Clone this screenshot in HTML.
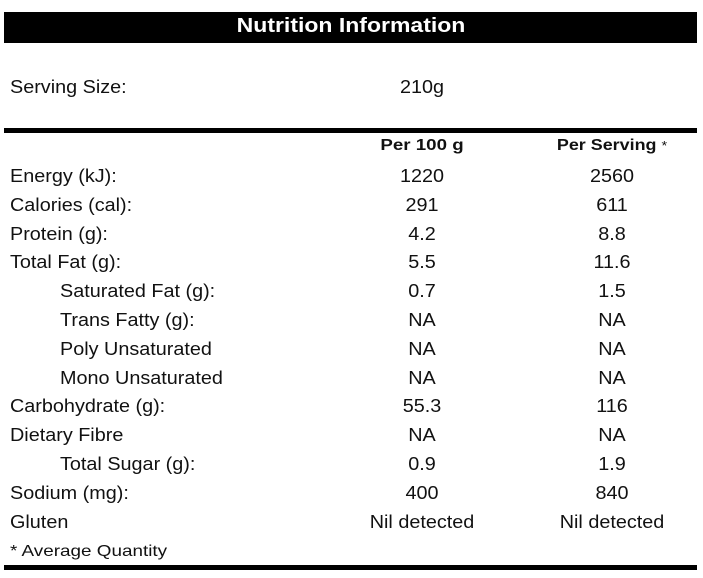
<!DOCTYPE html>
<html><head><meta charset="utf-8"><style>
body{margin:0;width:703px;height:578px;background:#fff;position:relative;overflow:hidden;font-family:"Liberation Sans",Arial,sans-serif;color:#111;}
.t{position:absolute;font-size:18px;line-height:20px;white-space:nowrap;transform:scaleX(1.1);transform-origin:left center;}
.c{transform:translateX(-50%) scaleX(1.1);transform-origin:center center;}
.bar{position:absolute;background:#000;left:4px;width:693px;}
</style></head><body>
<div class="bar" style="top:12px;height:31px;"></div>
<div class="t c" style="left:351px;top:15px;color:#fff;font-weight:bold;font-size:20px;line-height:22px;transform:translateX(-50%) scaleX(1.15);">Nutrition Information</div>
<div class="t" style="left:10px;top:77px;">Serving Size:</div>
<div class="t c" style="left:422px;top:77px;">210g</div>
<div class="bar" style="top:128px;height:5px;"></div>
<div class="t c" style="left:422px;top:136px;font-weight:bold;font-size:16px;transform:translateX(-50%) scaleX(1.17);">Per 100 g</div>
<div class="t c" style="left:612px;top:136px;font-weight:bold;font-size:16px;transform:translateX(-50%) scaleX(1.12);">Per Serving <span style="font-weight:normal;font-size:13px;vertical-align:top">*</span></div>
<div id="rows"></div>
<div class="t" style="left:10px;top:542px;font-size:16px;transform:scaleX(1.18);">* Average Quantity</div>
<div class="bar" style="top:565px;height:5px;"></div>
<script>
const labels=["Energy (kJ):","Calories (cal):","Protein (g):","Total Fat (g):","Saturated Fat (g):","Trans Fatty (g):","Poly Unsaturated","Mono Unsaturated","Carbohydrate (g):","Dietary Fibre","Total Sugar (g):","Sodium (mg):","Gluten"];
const per100=["1220","291","4.2","5.5","0.7","NA","NA","NA","55.3","NA","0.9","400","Nil detected"];
const perServing=["2560","611","8.8","11.6","1.5","NA","NA","NA","116","NA","1.9","840","Nil detected"];
const indented=[false,false,false,false,true,true,true,true,false,false,true,false,false];
const root=document.getElementById('rows');
labels.forEach((l,i)=>{
  const top=166+i*28.8;
  const a=document.createElement('div');
  a.className='t';a.style.left=(indented[i]?60:10)+'px';a.style.top=top+'px';a.textContent=l;
  
  
  root.appendChild(a);
  const b=document.createElement('div');
  b.className='t c';b.style.left='422px';b.style.top=top+'px';b.textContent=per100[i];
  
  
  root.appendChild(b);
  const c=document.createElement('div');
  c.className='t c';c.style.left='612px';c.style.top=top+'px';c.textContent=perServing[i];
  
  
  root.appendChild(c);
});
</script>
</body></html>
